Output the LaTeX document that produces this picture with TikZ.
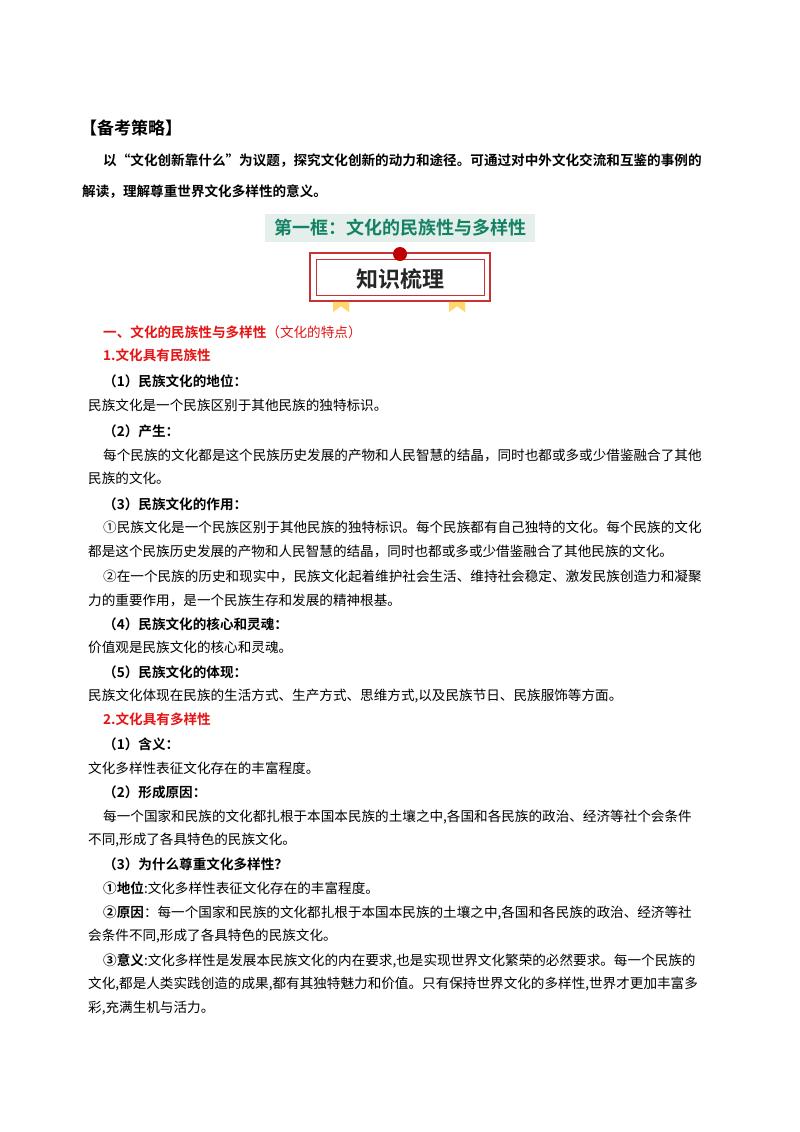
\documentclass[tikz,border=0pt]{standalone}
\usepackage{fontspec}
\setmainfont{Noto Sans CJK SC}[BoldFont=* Bold]
\definecolor{hred}{RGB}{230,20,20}
\definecolor{teal2}{RGB}{20,130,100}
\definecolor{tbg}{RGB}{228,238,234}
\definecolor{bred}{RGB}{200,50,50}
\definecolor{ribbon}{RGB}{255,215,110}
\begin{document}
\begin{tikzpicture}[x=1pt,y=1pt,
  txt/.style={anchor=base west,inner sep=0pt,font=\fontsize{13.6}{16}\selectfont},
  hd/.style={txt,font=\fontsize{13.6}{16}\selectfont\bfseries},
  rhd/.style={hd,text=hred}]
\useasboundingbox[fill=white] (0,0) rectangle (800,-1132);
\node[anchor=base west,inner sep=0pt,font=\fontsize{17}{20}\selectfont\bfseries] (h0) at (80,-134) {【备考策略】};
\node[hd] (p1) at (103,-165) {以“文化创新靠什么”为议题，探究文化创新的动力和途径。可通过对中外文化交流和互鉴的事例的};
\node[hd] (p2) at (82,-196) {解读，理解尊重世界文化多样性的意义。};
\fill[tbg] (265,-214) rectangle (535,-242);
\node[font=\fontsize{18}{20}\selectfont\bfseries,text=teal2,inner sep=0pt] (title) at (400,-228) {第一框：文化的民族性与多样性};
% banner
\fill[ribbon] (333,-296) -- (349,-296) -- (349,-312) -- (341,-306) -- (333,-312) -- cycle;
\fill[ribbon] (449,-296) -- (465,-296) -- (465,-312) -- (457,-306) -- (449,-312) -- cycle;
\draw[bred,line width=1.6pt,fill=white] (310,-253) rectangle (490,-301);
\draw[bred,line width=0.6pt] (316,-259) rectangle (484,-295);
\fill[ribbon] (333,-301.8) -- (349,-301.8) -- (349,-312) -- (341,-306) -- (333,-312) -- cycle;
\fill[ribbon] (449,-301.8) -- (465,-301.8) -- (465,-312) -- (457,-306) -- (449,-312) -- cycle;
\fill[red!75!black] (400,-254) circle (7);
\node[font=\fontsize{22}{24}\selectfont\bfseries,text=black!85,inner sep=0pt] (kt) at (400,-279) {知识梳理};
% body
\node[rhd] (l1) at (103,-337) {一、文化的民族性与多样性\textmd{（文化的特点）}};
\node[rhd] (l2) at (103,-360) {1.文化具有民族性};
\node[hd] (l3) at (103,-386) {（1）民族文化的地位：};
\node[txt] (l4) at (88,-410) {民族文化是一个民族区别于其他民族的独特标识。};
\node[hd] (l5) at (103,-436) {（2）产生：};
\node[txt] (l6) at (103,-460) {每个民族的文化都是这个民族历史发展的产物和人民智慧的结晶，同时也都或多或少借鉴融合了其他};
\node[txt] (l7) at (88,-483) {民族的文化。};
\node[hd] (l8) at (103,-509) {（3）民族文化的作用：};
\node[txt] (l9) at (103,-532) {①民族文化是一个民族区别于其他民族的独特标识。每个民族都有自己独特的文化。每个民族的文化};
\node[txt] (l10) at (88,-556) {都是这个民族历史发展的产物和人民智慧的结晶，同时也都或多或少借鉴融合了其他民族的文化。};
\node[txt] (l11) at (103,-581) {②在一个民族的历史和现实中，民族文化起着维护社会生活、维持社会稳定、激发民族创造力和凝聚};
\node[txt] (l12) at (88,-605) {力的重要作用，是一个民族生存和发展的精神根基。};
\node[hd] (l13) at (103,-629) {（4）民族文化的核心和灵魂：};
\node[txt] (l14) at (88,-652) {价值观是民族文化的核心和灵魂。};
\node[hd] (l15) at (103,-677) {（5）民族文化的体现：};
\node[txt] (l16) at (88,-700) {民族文化体现在民族的生活方式、生产方式、思维方式,以及民族节日、民族服饰等方面。};
\node[rhd] (l17) at (103,-724) {2.文化具有多样性};
\node[hd] (l18) at (103,-749) {（1）含义：};
\node[txt] (l19) at (88,-773) {文化多样性表征文化存在的丰富程度。};
\node[hd] (l20) at (103,-797) {（2）形成原因：};
\node[txt] (l21) at (103,-821) {每一个国家和民族的文化都扎根于本国本民族的土壤之中,各国和各民族的政治、经济等社个会条件};
\node[txt] (l22) at (88,-844) {不同,形成了各具特色的民族文化。};
\node[hd] (l23) at (103,-869) {（3）为什么尊重文化多样性？};
\node[txt] (l24) at (103,-893) {\textbf{①地位}:文化多样性表征文化存在的丰富程度。};
\node[txt] (l25) at (103,-917) {\textbf{②原因}：每一个国家和民族的文化都扎根于本国本民族的土壤之中,各国和各民族的政治、经济等社};
\node[txt] (l26) at (88,-940) {会条件不同,形成了各具特色的民族文化。};
\node[txt] (l27) at (103,-965) {\textbf{③意义}:文化多样性是发展本民族文化的内在要求,也是实现世界文化繁荣的必然要求。每一个民族的};
\node[txt] (l28) at (88,-988) {文化,都是人类实践创造的成果,都有其独特魅力和价值。只有保持世界文化的多样性,世界才更加丰富多};
\node[txt] (l29) at (88,-1012) {彩,充满生机与活力。};
\end{tikzpicture}
\end{document}
